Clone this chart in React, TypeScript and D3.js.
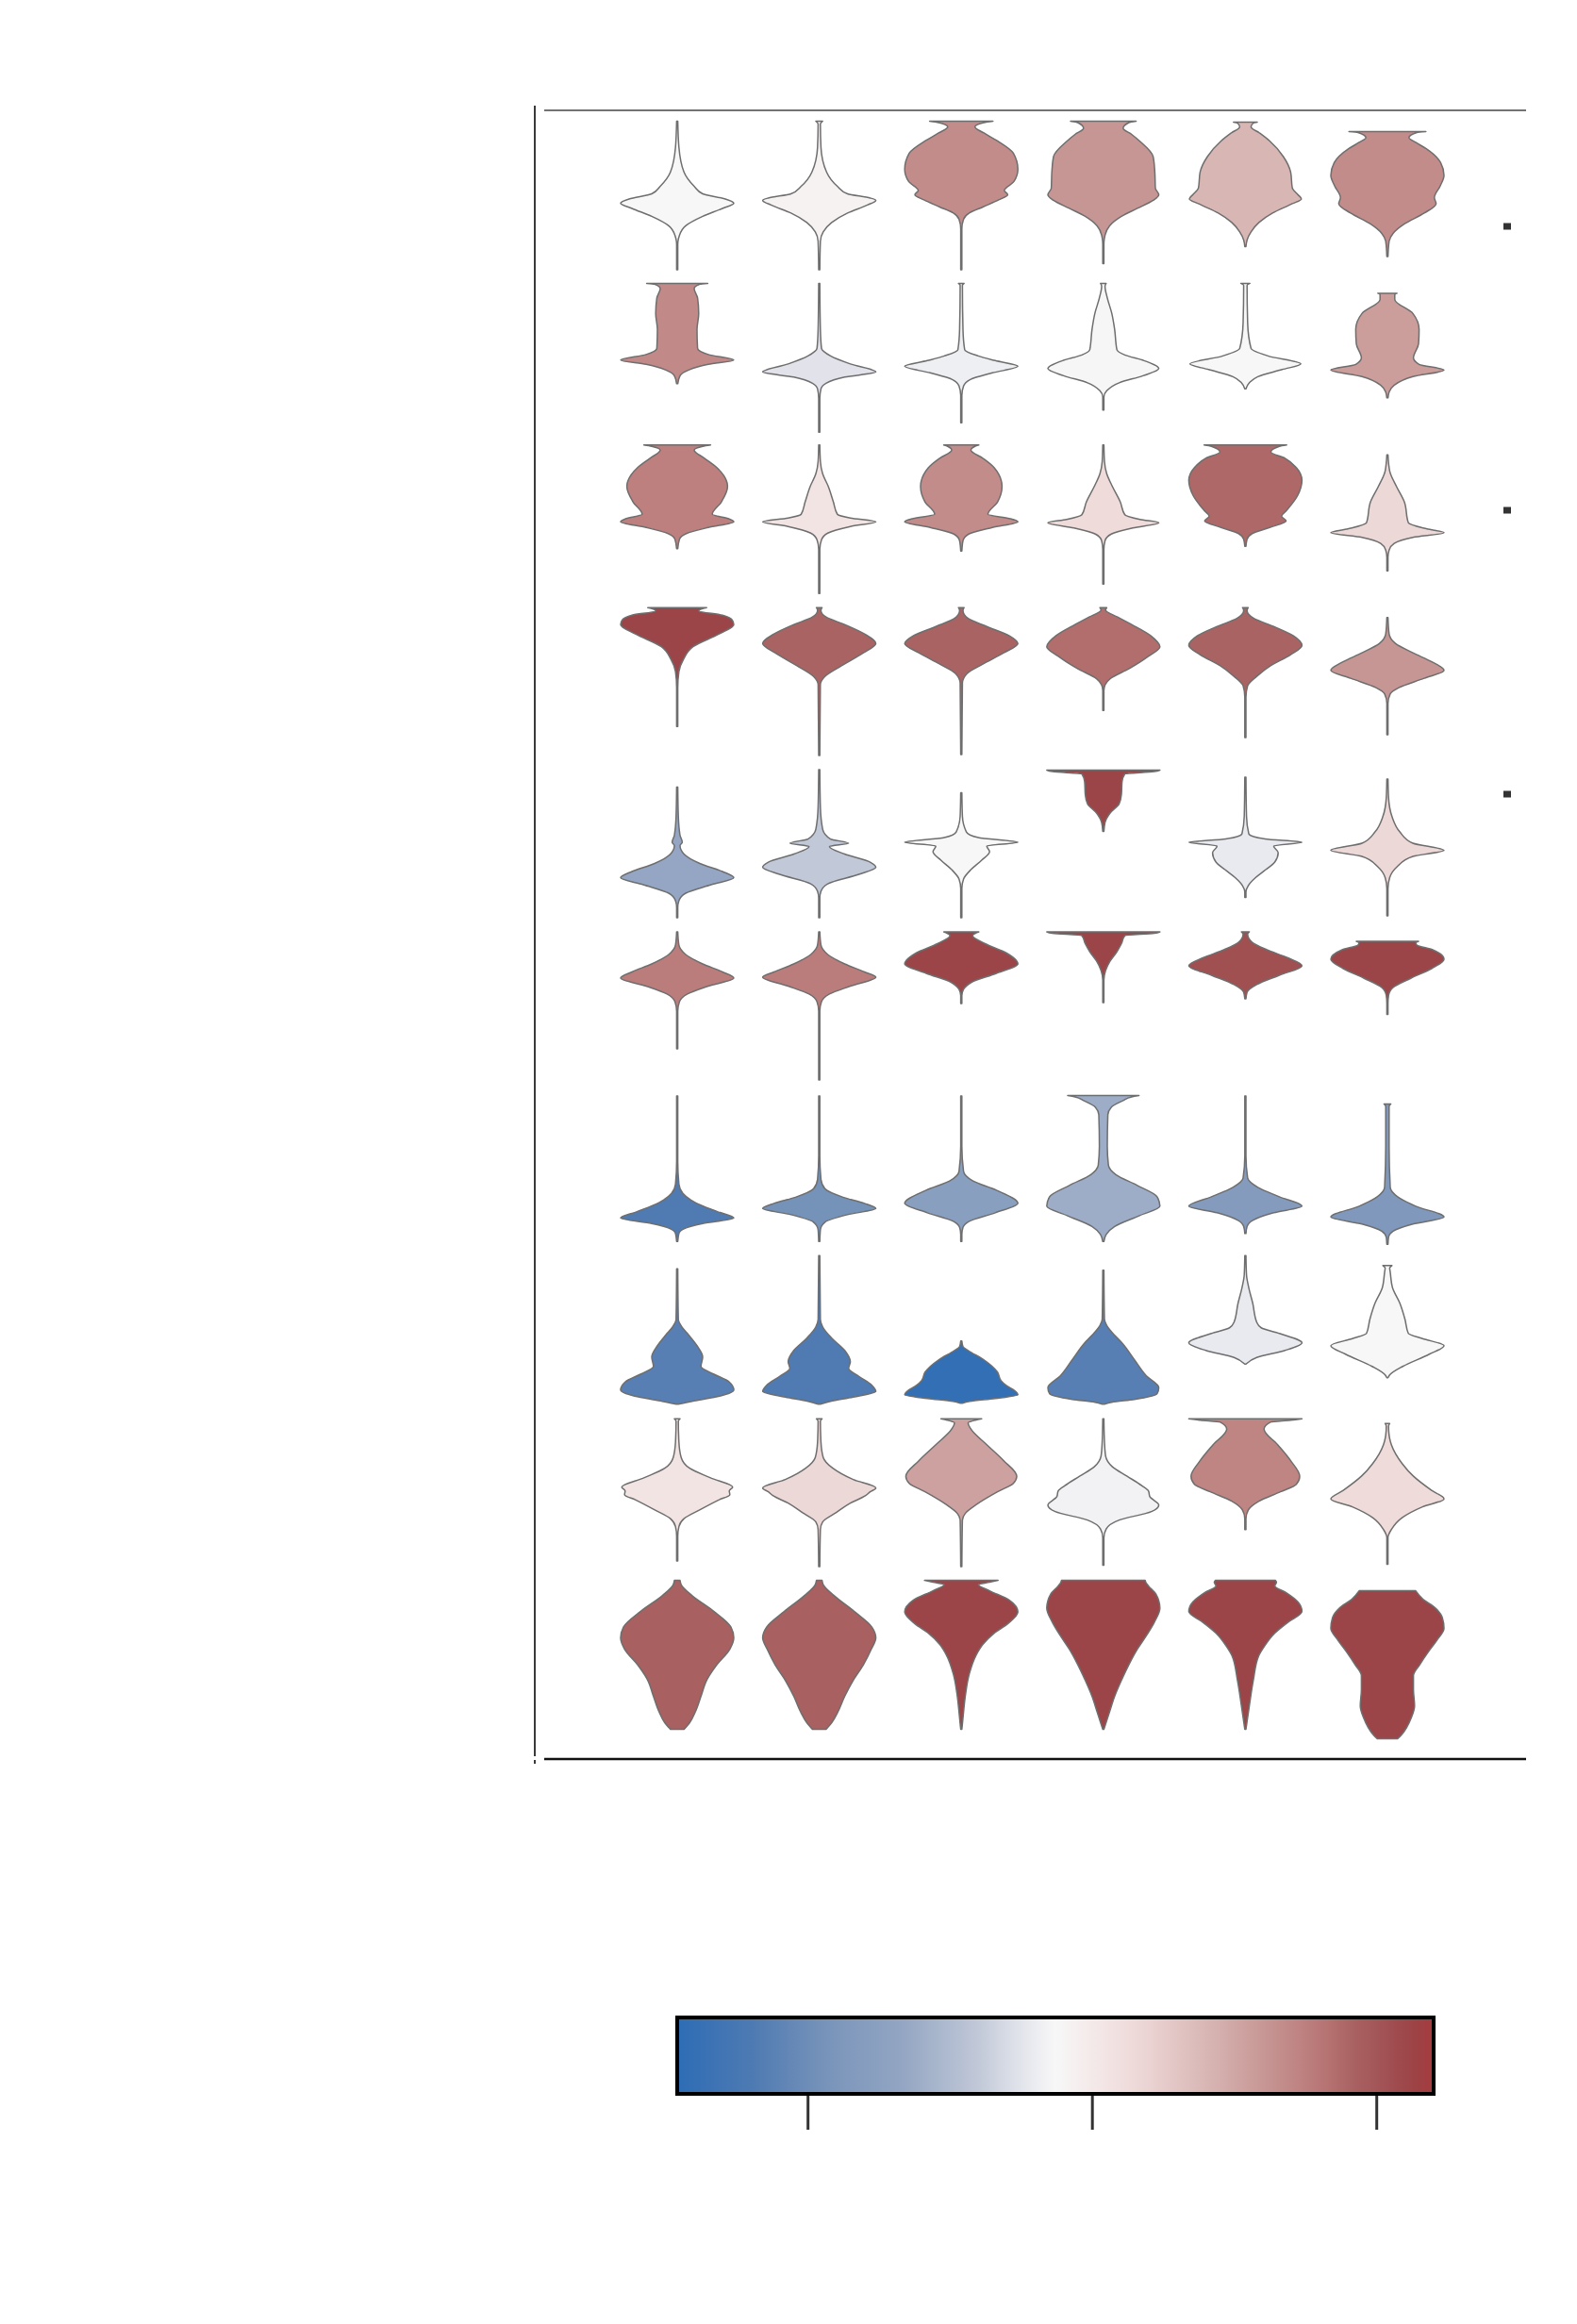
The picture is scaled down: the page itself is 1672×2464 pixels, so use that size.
import * as d3 from 'd3';
import React from 'react';

// stacked violin: 10 genes x 6 clusters, fill = mean scaled expression

const clusters = ['0', '1', '2', '3', '4', '5'];
const genes = ['G1', 'G2', 'G3', 'G4', 'G5', 'G6', 'G7', 'G8', 'G9', 'G10'];

// density knots per violin: [expression, relative width]
const gene1 = [
    [[32.5, .01], [27, .03], [21.7, .12], [18.7, .3], [17.1, .45], [16, .85], [15.1, 1], [14, .8], [12.3, .45], [10.3, .15], [8.3, .04], [6.3, .01], [1, .01]],
    [[32.5, .06], [31.9, .02], [27, .03], [21.7, .13], [18.7, .32], [17.1, .5], [16.2, .9], [15.7, 1], [14.7, .85], [13, .5], [11, .22], [9, .07], [7, .02], [1, .01]],
    [[32.5, .56], [32.2, .4], [31.3, .24], [30, .4], [28.3, .64], [25.7, .92], [22.3, 1], [19.7, .93], [17.8, .76], [16.9, .82], [15.8, .66], [14.3, .38], [13, .14], [11.7, .04], [9.7, .01], [1, .01]],
    [[32.5, .58], [32.2, .45], [31, .35], [29.7, .5], [28.3, .64], [25, .88], [21.7, .91], [18.3, .92], [16.9, .98], [15.7, .88], [14, .6], [12.3, .32], [10.3, .11], [8.3, .03], [6.3, .01], [2.3, .01]],
    [[32.3, .21], [32.1, .14], [31.3, .1], [30, .25], [28.3, .43], [25, .67], [21.7, .8], [18.3, .83], [16.9, .93], [16, .99], [15, .83], [13, .48], [11, .24], [9, .1], [7.3, .03], [5.9, .01]],
    [[30.3, .68], [30.1, .52], [29, .38], [28, .5], [26.7, .68], [23.7, .94], [21, 1], [18.7, .93], [16.3, .83], [15, .86], [13, .65], [10.7, .3], [8.7, .1], [7, .03], [3.8, .01]],
];
const gene2 = [
    [[33.1, .54], [32.9, .4], [32, .3], [30, .36], [26.7, .38], [23.3, .35], [19.3, .36], [18, .55], [16.8, 1], [15.9, .55], [14.7, .2], [13.5, .05], [11.8, .01]],
    [[33.1, .01], [23.3, .02], [19.3, .04], [17.7, .2], [16, .55], [14.3, 1], [13.2, .45], [11.9, .12], [10.7, .03], [8.7, .01], [1.5, .01]],
    [[33.1, .05], [32.7, .02], [23.3, .03], [19, .06], [17.7, .3], [16.7, .6], [15.5, 1], [14.1, .55], [12.7, .16], [11.3, .04], [9.3, .01], [3.5, .01]],
    [[33.1, .05], [32.5, .03], [30, .07], [26.7, .15], [23.3, .2], [19, .24], [17.9, .38], [16.7, .72], [15, .98], [13.5, .7], [12, .28], [10.3, .06], [9, .01], [6.2, .01]],
    [[33.1, .08], [32.7, .03], [24.7, .04], [19.3, .1], [17.7, .4], [16, .98], [14.8, .65], [13.3, .22], [12, .07], [10.7, .01]],
    [[31, .17], [30.7, .13], [29.7, .13], [26.7, .45], [23.3, .56], [20.3, .55], [17.3, .46], [15.9, .56], [14.7, 1], [13.3, .45], [11.5, .12], [10, .03], [8.8, .01]],
];
const gene3 = [
    [[33.8, .59], [33.5, .45], [32.7, .3], [31, .48], [29, .7], [25, .89], [21.7, .78], [19.1, .62], [18.2, .9], [17.5, 1], [16.3, .55], [15, .16], [13.8, .04], [11.8, .01]],
    [[33.8, .01], [30.3, .02], [27.7, .06], [25, .16], [21.7, .25], [19.1, .32], [18.3, .55], [17.5, 1], [16.5, .55], [15.1, .15], [13.7, .04], [11.7, .01], [2.3, .01]],
    [[33.8, .31], [33.5, .24], [32.7, .17], [31, .38], [29, .58], [25, .72], [21.7, .64], [19.1, .47], [18.2, .85], [17.5, 1], [16.3, .55], [14.9, .13], [13.5, .03], [11.3, .01]],
    [[33.8, .01], [30.3, .02], [27.7, .06], [25, .16], [21.7, .3], [19, .38], [18, .65], [17.3, .98], [16.2, .52], [14.9, .14], [13.5, .03], [11.7, .01], [4.3, .01]],
    [[33.8, .73], [33.5, .6], [32.3, .45], [31, .7], [29, .9], [26.3, 1], [23, .92], [19.8, .72], [18.7, .64], [17.7, .72], [16.3, .43], [15, .12], [13.8, .03], [12.3, .01]],
    [[31.7, .01], [28.3, .04], [25, .16], [21.7, .3], [17.3, .37], [16, .7], [15.2, 1], [14.2, .45], [12.9, .12], [11.5, .03], [10, .01], [7.1, .01]],
];
const gene4 = [
    [[34.3, .52], [34.1, .45], [33.6, .38], [32.7, .8], [31.7, .97], [30.7, 1], [28.7, .74], [26, .28], [23.3, .11], [20.7, .03], [17.3, .01], [9.1, .01]],
    [[34.3, .05], [33.7, .03], [32.3, .12], [30.7, .45], [28.7, .8], [26.7, 1], [24.7, .78], [22, .4], [19.7, .1], [18, .02], [2.9, .01]],
    [[34.3, .05], [33.7, .03], [32, .12], [30.3, .45], [28.3, .85], [26.7, 1], [24.7, .75], [22.3, .38], [20.3, .1], [18.3, .02], [3.1, .01]],
    [[34.3, .06], [33.8, .04], [32.3, .25], [30.7, .5], [28.3, .84], [26, 1], [24, .8], [21.3, .45], [19.2, .12], [17.9, .03], [16.7, .01], [12.5, .01]],
    [[34.3, .05], [33.7, .03], [32, .15], [30.3, .5], [28.3, .85], [26.3, 1], [24.3, .8], [22, .45], [19.7, .2], [17.7, .04], [15.3, .01], [6.7, .01]],
    [[32.2, .01], [28.7, .03], [26.7, .14], [24.7, .45], [22.7, .8], [21, 1], [19.3, .65], [17.3, .2], [16, .05], [14, .01], [7.3, .01]],
];
const gene5 = [
    [[31.2, .01], [25, .02], [21, .05], [19.5, .09], [18.8, .05], [17, .12], [15, .4], [13.3, .8], [12, 1], [10.5, .6], [8.7, .15], [7.1, .03], [5.7, .01], [3.5, .01]],
    [[34.9, .01], [27, .02], [22.3, .06], [20.2, .2], [19.3, .52], [18.6, .18], [17, .45], [15.3, .9], [14.2, 1], [12.7, .7], [10.7, .15], [9.1, .03], [7.7, .01], [3.5, .01]],
    [[30, .01], [25, .02], [21.7, .09], [20.5, .3], [19.5, 1], [18.7, .45], [17.5, .5], [15.7, .36], [13.7, .17], [11.7, .04], [9.7, .01], [3.5, .01]],
    [[34.8, 1], [34.5, .9], [34, .38], [32.3, .33], [29.7, .32], [27.7, .28], [25.7, .12], [23.7, .03], [21.8, .01]],
    [[33.3, .01], [25, .02], [21.3, .06], [20.2, .35], [19.5, 1], [18.7, .5], [17.3, .58], [15.3, .52], [13.7, .36], [12, .18], [10.3, .05], [9, .01], [7.8, .01]],
    [[32.9, .01], [29, .02], [25, .08], [21.7, .22], [19.3, .45], [17.8, 1], [16.5, .45], [14.3, .17], [12, .04], [9.7, .01], [3.9, .01]],
];
const gene6 = [
    [[35.5, .01], [32.7, .03], [30.7, .15], [28.7, .45], [27, .8], [25.7, 1], [24, .55], [22.3, .18], [20.7, .04], [18.7, .01], [10.7, .01]],
    [[35.5, .01], [32.7, .03], [30.7, .15], [28.7, .45], [27, .8], [25.9, 1], [24, .55], [22.3, .18], [20.7, .04], [18.7, .01], [4.1, .01]],
    [[35.5, .31], [35.2, .25], [34.7, .2], [33, .42], [31, .8], [28.7, 1], [26.7, .62], [24.8, .18], [23.3, .04], [22, .01], [20.3, .01]],
    [[35.5, 1], [35.2, .9], [34.7, .38], [33, .32], [31.3, .24], [29.3, .12], [27.3, .04], [25.3, .01], [20.5, .01]],
    [[35.5, .07], [35, .04], [33.3, .12], [31.7, .38], [30, .75], [28.3, 1], [26.3, .6], [24.3, .2], [22.7, .03], [21.3, .01]],
    [[33.5, .55], [33.2, .5], [32.7, .52], [31.7, .8], [29.7, 1], [27.7, .78], [25.7, .42], [23.7, .1], [22, .02], [20.3, .01], [18, .01]],
];
const gene7 = [
    [[35.7, .01], [21.7, .01], [17, .03], [15, .1], [13, .33], [11.1, .72], [9.8, 1], [8.6, .45], [7.5, .12], [6.5, .03], [4.8, .01]],
    [[35.7, .01], [23, .01], [18, .03], [16, .1], [14.2, .42], [12.9, .8], [11.8, 1], [10.5, .5], [8.9, .1], [7.3, .02], [4.8, .01]],
    [[35.7, .01], [25, .01], [19.7, .04], [17.7, .2], [15.7, .62], [12.9, 1], [10.9, .6], [9.1, .14], [7.8, .03], [6.3, .01], [4.8, .01]],
    [[35.8, .63], [35.5, .5], [34.7, .35], [33.3, .14], [31.7, .08], [25, .07], [21, .09], [19, .22], [16.7, .6], [14.3, .95], [12.3, 1], [10.3, .64], [8, .2], [6.3, .05], [4.8, .01]],
    [[35.7, .01], [23, .01], [18.3, .04], [16.3, .22], [14.3, .6], [12.3, 1], [10.9, .5], [9.3, .13], [8, .03], [6.5, .01]],
    [[34, .06], [33.5, .03], [25, .03], [16.3, .05], [14.3, .18], [12.3, .5], [10, 1], [8.5, .45], [7, .1], [5.7, .02], [4.2, .01]],
];
const gene8 = [
    [[34, .01], [23.3, .02], [21.7, .08], [20, .2], [17.7, .35], [15.3, .45], [13.3, .42], [11.7, .64], [10, .92], [8.3, 1], [7, .75], [6, .3], [5.3, .02]],
    [[36.8, .01], [23.3, .02], [21.7, .06], [19.3, .22], [16.7, .45], [14.3, .55], [12.9, .52], [11.2, .7], [9.3, .93], [8, 1], [6.8, .6], [5.9, .2], [5.3, .02]],
    [[18.7, .01], [17.5, .03], [16.7, .12], [14.7, .4], [12.1, .64], [10.3, .7], [9.2, .8], [8.1, .95], [7.3, 1], [6.5, .6], [5.9, .15], [5.5, .02]],
    [[33.7, .01], [23.3, .02], [22, .06], [20.7, .14], [18, .35], [14.7, .55], [11.3, .76], [8.8, .98], [7.5, .95], [6.3, .55], [5.7, .15], [5.3, .02]],
    [[36.8, .01], [32.7, .02], [30, .06], [26.7, .13], [22.7, .2], [21.5, .28], [20.3, .6], [18.3, 1], [16.7, .7], [15.2, .2], [13.8, .01]],
    [[34.7, .08], [34.2, .04], [33.3, .05], [30, .09], [26.7, .22], [23.3, .31], [20.3, .37], [19.2, .62], [17.7, 1], [15.9, .74], [13.3, .27], [11.5, .04], [10.9, .01]],
];
const gene9 = [
    [[37.2, .05], [36.7, .02], [32.3, .03], [29, .07], [26.7, .22], [24.7, .58], [22.7, .98], [21.9, .92], [21.1, .93], [20, .74], [18, .42], [16, .12], [14.3, .03], [12.3, .01], [7, .01]],
    [[37.2, .05], [36.7, .02], [32.3, .03], [29, .07], [26.7, .24], [24.3, .6], [22.5, 1], [21.7, .9], [20.9, .82], [19.3, .55], [17.3, .3], [15.3, .06], [13.7, .02], [5.8, .01]],
    [[37.2, .36], [36.9, .25], [36.3, .12], [35, .17], [31.7, .45], [28.3, .75], [25, .98], [23.5, .92], [21.7, .64], [19.1, .28], [17.1, .07], [15.7, .02], [5.8, .01]],
    [[37.2, .01], [32.3, .02], [29.3, .04], [27, .16], [25, .42], [23, .68], [21.8, .8], [20.7, .82], [18.9, .98], [17.5, .85], [15.7, .28], [13.8, .05], [12, .01], [6.1, .01]],
    [[37.2, 1], [36.9, .8], [36.5, .45], [35, .33], [31.7, .57], [28.3, .8], [25, .96], [23.3, .9], [21.7, .62], [19.7, .24], [17.8, .05], [16, .01], [13.7, .01]],
    [[36.2, .04], [35.6, .02], [33.7, .03], [31.7, .07], [27.7, .26], [25, .46], [22, .78], [20.2, 1], [18.5, .62], [16.2, .26], [13.7, .07], [12, .01], [6.3, .01]],
];
const gene10 = [
    [[37.9, .05], [37, .07], [34.7, .26], [31.3, .65], [28, .95], [25.7, 1], [23.3, .93], [20, .7], [16.7, .52], [13.3, .42], [10, .32], [7.7, .22], [6.7, .15], [6.3, .12]],
    [[37.9, .05], [37, .07], [34.7, .26], [31.3, .62], [28, .93], [25.7, 1], [23.3, .92], [20, .78], [16.7, .6], [13.3, .45], [10, .33], [7.7, .22], [6.7, .15], [6.3, .12]],
    [[37.9, .65], [37.5, .5], [37, .3], [35.7, .5], [33.7, .85], [31.2, 1], [28.7, .82], [26.7, .58], [24.3, .38], [22, .26], [18, .14], [13.3, .07], [8.7, .03], [6.3, .01]],
    [[37.9, .74], [37.3, .76], [36.7, .8], [35, .93], [32, 1], [29, .9], [26, .75], [23.3, .6], [20, .45], [16.7, .32], [13.3, .2], [10, .11], [6.3, .01]],
    [[37.9, .53], [37.5, .55], [36.7, .52], [35.3, .72], [33.3, .93], [31.3, 1], [29, .75], [26.7, .52], [24, .34], [22, .24], [16.7, .14], [11.3, .07], [6.3, .01]],
    [[35.7, .5], [34, .62], [32, .85], [30, .97], [27.7, 1], [25.3, .88], [22.7, .72], [20, .57], [17.7, .46], [14.7, .46], [11.3, .48], [8.7, .42], [6.7, .34], [5, .24], [4.3, .18]],
];
const densities = [gene1, gene2, gene3, gene4, gene5, gene6, gene7, gene8, gene9, gene10];

// mean scaled expression (colour)
const meanExpr = [
    [-0.13, -0.08, 0.67, 0.61, 0.40, 0.67],
    [0.69, -0.26, -0.18, -0.12, -0.13, 0.56],
    [0.75, 0.06, 0.67, 0.14, 0.88, 0.16],
    [1.12, 0.91, 0.91, 0.85, 0.91, 0.61],
    [-0.66, -0.40, -0.13, 1.12, -0.21, 0.16],
    [0.77, 0.77, 1.12, 1.12, 1.04, 1.12],
    [-1.19, -0.95, -0.77, -0.61, -0.82, -0.87],
    [-1.14, -1.19, -1.41, -1.14, -0.21, -0.13],
    [0.06, 0.16, 0.54, -0.16, 0.72, 0.14],
    [0.93, 0.93, 1.12, 1.12, 1.12, 1.12],
];

const colorDomain = [-1.46, 1.2];
const colorbarTicks = [-1, 0, 1];
const sideMarks = [0, 1, 2];

// vlag-like palette
const paletteT = [0, 0.1, 0.2, 0.3, 0.4, 0.45, 0.5, 0.57, 0.62, 0.7, 0.78, 0.84, 0.89, 0.97, 1];
const paletteC = ['#2d6cb5', '#4e7ab2', '#7994ba', '#94a6c3', '#c2c9d8', '#e0e2ea', '#f7f7f7', '#f3e4e4',
    '#ebd5d4', '#d8b6b4', '#c69593', '#bb7c7b', '#aa6363', '#9b4548', '#a53b3e'];

export default function App() {
    const x = d3.scalePoint<string>().domain(clusters).range([718, 1471]);
    const rows = d3.scaleBand<string>().domain(genes).range([116, 1865]);
    const half = d3.scaleLinear().domain([0, 1]).range([0, 60]);
    const toT = d3.scaleLinear().domain(colorDomain).range([0, 1]).clamp(true);
    const cmap = d3.scaleLinear<string>().domain(paletteT).range(paletteC).interpolate(d3.interpolateRgb);
    const color = (v: number) => cmap(toT(v));

    const cbar = { x0: 718, x1: 1520, y0: 2139, y1: 2220 };
    const cbarX = d3.scaleLinear().domain(colorDomain).range([cbar.x0, cbar.x1]);
    const markY = d3.scaleLinear().domain([0, 2]).range([240, 842]);
    const gradStops = d3.range(0, 1.0001, 0.025);

    return (
        <svg width={1672} height={2464} style={{ position: 'absolute', left: 0, top: 0, background: '#fff' }}>
            <defs>
                <linearGradient id="cbarGrad" x1="0%" x2="100%" y1="0%" y2="0%">
                    {gradStops.map((t) => (
                        <stop key={t} offset={`${t * 100}%`} stopColor={cmap(t)} />
                    ))}
                </linearGradient>
            </defs>
            <rect width={1672} height={2464} fill="#fff" />

            {genes.map((g, r) => {
                const top = rows(g) as number;
                const y = d3.scaleLinear().domain([0, 35]).range([top + rows.bandwidth(), top]);
                return (
                    <g key={g} className="row">
                        {densities[r].map((knots, c) => {
                            const cx = x(clusters[c]) as number;
                            const area = d3.area<number[]>()
                                .curve(d3.curveMonotoneY)
                                .x0((d) => cx - half(d[1]))
                                .x1((d) => cx + half(d[1]))
                                .y((d) => y(d[0]));
                            return (
                                <path key={c} d={area(knots as number[][]) || ''}
                                    fill={color(meanExpr[r][c])} stroke="#6e6e6e"
                                    strokeWidth={1.5} strokeLinejoin="round" />
                            );
                        })}
                    </g>
                );
            })}

            {/* frame lines */}
            <line x1={567} x2={567} y1={112} y2={1862} stroke="#3a3a3a" strokeWidth={2} />
            <line x1={567} x2={567} y1={1866} y2={1870} stroke="#3a3a3a" strokeWidth={2} />
            <line x1={577} x2={1618} y1={117} y2={117} stroke="#444" strokeWidth={1.5} />
            <line x1={577} x2={1618} y1={1865} y2={1865} stroke="#111" strokeWidth={2.5} />

            {sideMarks.map((m) => (
                <rect key={m} x={1594} y={markY(m) - 3.5} width={8} height={7} fill="#333" />
            ))}

            {/* colour bar */}
            <rect x={cbar.x0} y={cbar.y0} width={cbar.x1 - cbar.x0} height={cbar.y1 - cbar.y0}
                fill="url(#cbarGrad)" stroke="#000" strokeWidth={4} />
            {colorbarTicks.map((t) => (
                <line key={t} x1={cbarX(t)} x2={cbarX(t)} y1={cbar.y1 + 2} y2={cbar.y1 + 38}
                    stroke="#333" strokeWidth={3} />
            ))}
        </svg>
    );
}
